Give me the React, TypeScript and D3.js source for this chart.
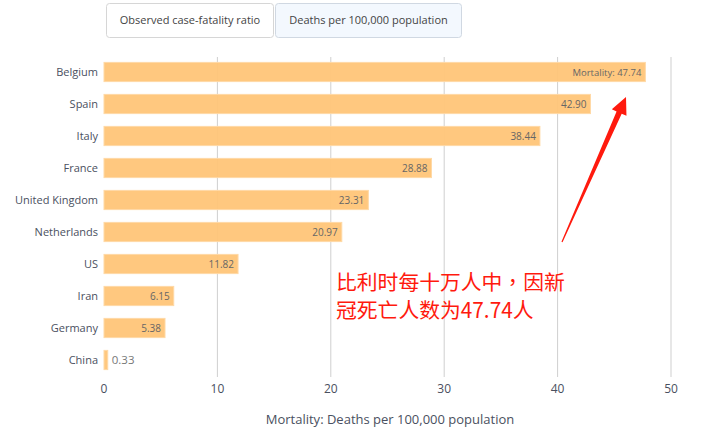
import React from "react";
import * as d3 from "d3";

const countries = ["Belgium", "Spain", "Italy", "France", "United Kingdom", "Netherlands", "US", "Iran", "Germany", "China"];
const mortality = [47.74, 42.9, 38.44, 28.88, 23.31, 20.97, 11.82, 6.15, 5.38, 0.33];
const xTicks = [0, 10, 20, 30, 40, 50];
const tabs = ["Observed case-fatality ratio", "Deaths per 100,000 population"];
const axisTitle = "Mortality: Deaths per 100,000 population";
const noteLines = ["比利时每十万人中，因新", "冠死亡人数为47.74人"];

const W = 720;
const H = 444;
const FONT = "'Open Sans', 'Noto Sans', sans-serif";

export default function App() {
  const x = d3.scaleLinear().domain([0, 50]).range([104, 671]);
  const y = d3.scaleBand<string>().domain(countries).range([56, 376]).paddingInner(0.4).paddingOuter(0.2);
  const bw = y.bandwidth();

  // arrow geometry
  const tail = [562, 242];
  const tip = [626, 97];
  const dx = tip[0] - tail[0];
  const dy = tip[1] - tail[1];
  const len = Math.hypot(dx, dy);
  const ux = dx / len, uy = dy / len;
  const nx = -uy, ny = ux;
  const headLen = 17;
  const base = [tip[0] - ux * headLen, tip[1] - uy * headLen];
  const arrowPts = [
    [tail[0] + nx * 0.6, tail[1] + ny * 0.6],
    [base[0] + nx * 2.8, base[1] + ny * 2.8],
    [base[0] + nx * 8, base[1] + ny * 8],
    [tip[0], tip[1]],
    [base[0] - nx * 8, base[1] - ny * 8],
    [base[0] - nx * 2.8, base[1] - ny * 2.8],
    [tail[0] - nx * 0.6, tail[1] - ny * 0.6],
  ];

  return (
    <svg width={W} height={H} style={{ position: "absolute", left: 0, top: 0, background: "#fff" }} fontFamily={FONT}>
      {/* tabs */}
      <rect x={106.5} y={3.5} width={167} height={34} rx={3} fill="#fff" stroke="#d6d6d6" />
      <text x={190} y={24} textAnchor="middle" fontSize={11} fill="#444">{tabs[0]}</text>
      <rect x={275.5} y={3.5} width={186} height={34} rx={3} fill="#f3f8fe" stroke="#d0d8e2" />
      <text x={368.5} y={24} textAnchor="middle" fontSize={11} fill="#444">{tabs[1]}</text>

      {/* grid */}
      {xTicks.map((t) => (
        <g key={t}>
          {t > 0 && <line x1={x(t)} x2={x(t)} y1={57} y2={377} stroke="#cfcfcf" strokeWidth={1} />}
          <text x={x(t)} y={393} textAnchor="middle" fontSize={12} fill="#4a5060">{t}</text>
        </g>
      ))}

      {/* bars */}
      {countries.map((c, i) => {
        const v = mortality[i];
        const yy = y(c)!;
        const xe = x(v);
        return (
          <g key={c}>
            <rect x={x(0)} y={yy} width={xe - x(0)} height={bw} fill="#ffc578" fillOpacity={0.95} stroke="#ffd9a6" strokeWidth={1} />
            <text x={98} y={yy + bw / 2 + 4} textAnchor="end" fontSize={11} fill="#4a5060">{c}</text>
            {i === 0 ? (
              <text x={xe - 4} y={yy + bw / 2 + 3.5} textAnchor="end" fontSize={9.5} fill="#666">{"Mortality: " + v.toFixed(2)}</text>
            ) : v < 2 ? (
              <text x={xe + 4} y={yy + bw / 2 + 4} textAnchor="start" fontSize={11.5} fill="#777">{v.toFixed(2)}</text>
            ) : (
              <text x={xe - 4} y={yy + bw / 2 + 3.5} textAnchor="end" fontSize={10} fill="#666">{v.toFixed(2)}</text>
            )}
          </g>
        );
      })}

      {/* axis title */}
      <text x={390} y={424} textAnchor="middle" fontSize={13} fill="#4a5060">{axisTitle}</text>

      {/* annotation */}
      <polygon points={arrowPts.map((p) => p.join(",")).join(" ")} fill="#ff1a0e" />
      {noteLines.map((l, i) => (
        <text key={i} x={336} y={290 + i * 28} fontSize={20.8} fill="#ff1a0e" fontFamily="'Noto Sans CJK TC', 'Noto Sans CJK SC', sans-serif">{l}</text>
      ))}
    </svg>
  );
}
